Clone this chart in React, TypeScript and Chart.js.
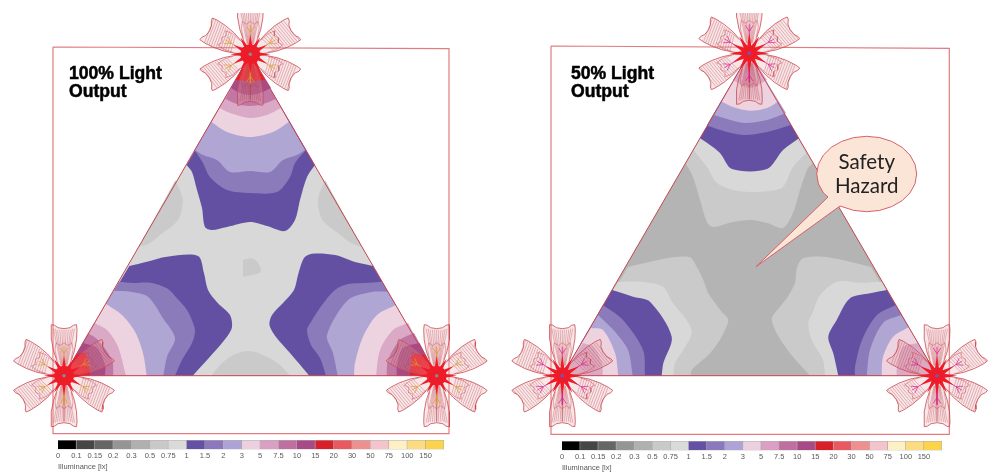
import React, { useEffect, useRef } from "react";
import { Chart, registerables } from "chart.js";

Chart.register(...registerables);

const C = {
  g1: "#b3b4b3", g2: "#c9cac9", g3: "#d7d8d7",
  p1: "#6450a3", p2: "#8b7bba", p3: "#b0a6d4",
  k1: "#edd3e0", k2: "#daa9c6", k3: "#c077a4", k4: "#a64b87", red: "#ee1c28",
};

/* contour bands, x y x y ... in the picture's units */
const L_TRI = [250.3,54.3, 436.7,375.7, 64,375.7];
const L_BLOB_A = [175.5,180, 182.7,200, 178,220, 160,235, 150,243, 138.7,247];
const L_BLOB_B = [325,180, 318,200, 322.5,220, 340.5,235, 351,243, 362,247];
const L_BLOB_C = [243,260, 251.7,258.3, 258.3,263, 260.7,271.7, 251.7,275, 243,276.7];
const L_BLOB_D = [211.7,375.7, 220,365, 233.3,355, 250,351, 266.7,356.7, 280,365, 290,375.7];
const L_TOP: [string, number[]][] = [
  [C.p1, [250.3,54.3, 186.7,165, 192,172, 197,190, 202,208, 205,227, 212,230, 227,227, 250,222, 267,226, 285,231, 295,220, 300,200, 307,177, 315,165]],
  [C.p2, [250.3,54.3, 194.5,150, 203,163, 210,177, 227,190, 250,193, 277,192, 290,177, 295,163, 306,150]],
  [C.p3, [250.3,54.3, 194.5,150, 203,155, 217,160, 230,172, 250,171, 270,172, 283,160, 297,155, 305,150]],
  [C.k1, [250.3,54.3, 211.5,122, 227,132, 250,137, 273,132, 288.8,122]],
  [C.k2, [250.3,54.3, 219.5,108, 230,113, 250,118, 267,115, 281,108]],
  [C.k3, [250.3,54.3, 225.5,99, 237,104, 250,106, 263,104, 276,99]],
  [C.k4, [250.3,54.3, 231,88, 240,93, 250,95, 260,93, 271,88]],
  [C.red, [250.3,54.3, 235.4,80, 250,81, 265.2,80]],
];
const L_BL: [string, number[]][] = [
  [C.p1, [64,375.7, 129.3,266, 147,261.7, 167,256.7, 198,256, 204,273.3, 208,290, 218,303.3, 230,315, 232,327.3, 227,336.7, 213,353.3, 192.7,375.7]],
  [C.p2, [64,375.7, 119,281.7, 133,283, 150,282.7, 167,288.3, 177,298.3, 187,310, 193,323, 195,331.7, 192,343, 182,360, 175,375.7]],
  [C.p3, [64,375.7, 114,290.7, 130,291.7, 148,296.7, 163,318.3, 175,338.3, 167,356.7, 163.3,375.7]],
  [C.k1, [64,375.7, 106,304, 122,315, 135,331.7, 143,353, 146.7,375.7]],
  [C.k2, [64,375.7, 94,322.7, 107,330, 118,346.7, 126,375.7]],
  [C.k3, [64,375.7, 88,333.3, 98,340, 112,360, 113.3,375.7]],
  [C.k4, [64,375.7, 83,343, 97,348, 105,365, 105,375.7]],
  [C.red, [64,375.7, 76,355, 85,353, 90,372, 90,375.7]],
];
const L_BR: [string, number[]][] = [
  [C.p1, [436.7,375.7, 373,266, 355,262, 335,255, 312,253.7, 304,258, 298,275, 294,290, 283,303, 272,315, 269.5,325, 276,337, 290,353, 309.3,375.7]],
  [C.p2, [436.7,375.7, 382,281.7, 365,283, 348,284, 335,290, 322,305, 311,322, 307,330, 311,345, 320,358, 326,375.7]],
  [C.p3, [436.7,375.7, 387.5,291.7, 372,292, 348,300, 327,335, 333,353, 337.7,375.7]],
  [C.k1, [436.7,375.7, 396,305, 377,315, 363,336.7, 355,363, 354,375.7]],
  [C.k2, [436.7,375.7, 408,323, 393,330, 380,350, 376,375.7]],
  [C.k3, [436.7,375.7, 414,333, 400,340, 388,360, 386.7,375.7]],
  [C.k4, [436.7,375.7, 419.5,343, 403,348, 397,365, 396.7,375.7]],
  [C.red, [436.7,375.7, 425,355, 413,355, 410,372, 410,375.7]],
];

const R_TRI = [749.3,53.3, 937,375.7, 562.3,375.7];
const R_TOP: [string, number[]][] = [
  [C.g2, [749.3,53.3, 685.5,163.3, 693,177, 700,200, 707,222, 713,227, 733,222, 750,220, 767,223, 783,228, 793,213, 800,190, 808,168, 813,163.3]],
  [C.g3, [749.3,53.3, 693.3,150, 707,167, 717,183, 733,190, 750,192, 770,191, 783,187, 793,167, 806,153]],
  [C.p1, [749.3,53.3, 700,138.3, 710,145, 720,153, 732,169, 767,169, 783,150, 799,138.3]],
  [C.p2, [749.3,53.3, 706.7,125.5, 727,132, 745,135, 767,132, 791,125]],
  [C.p3, [749.3,53.3, 714,115, 727,119, 745,123, 767,120, 786,113]],
  [C.k1, [749.3,53.3, 721.7,101.7, 733,107, 750,110.7, 767,108, 778,101.7]],
  [C.k2, [749.3,53.3, 733,80, 750,88, 767,80]],
];
const R_BL: [string, number[]][] = [
  [C.g2, [562.3,375.7, 628,267, 650,261.7, 673,257.3, 690,257.3, 696.7,266.7, 703.3,280, 708.3,293.3, 721.7,311.7, 728.3,320, 721.7,336.7, 710,353.3, 691.7,370, 690.7,375.7]],
  [C.g3, [562.3,375.7, 618,281.7, 640,281.7, 663,286.7, 673,303.3, 686.7,320, 691.7,333.3, 683.3,350, 675,363.3, 673.3,375.7]],
  [C.p1, [562.3,375.7, 612,290, 633,296.7, 650,301.7, 671.7,336.7, 663.3,363.3, 661.7,375.7]],
  [C.p2, [562.3,375.7, 603,305, 623,320, 643,350, 645,375.7]],
  [C.p3, [562.3,375.7, 598,315, 615,331.7, 628,350, 632.7,375.7]],
  [C.k1, [562.3,375.7, 591,328, 603,330, 615,353, 618.3,375.7]],
  [C.k2, [562.3,375.7, 583,343, 593,347, 602,363, 602.7,375.7]],
];
const R_BR: [string, number[]][] = [
  [C.g2, [937,375.7, 871,267, 850,261.7, 823,256.7, 803,258.3, 796.7,268.3, 795,283, 786.7,298.3, 773.3,315, 771.7,320, 776.7,333.3, 790,353.3, 810,375.7]],
  [C.g3, [937,375.7, 881.7,281.7, 860,282.7, 837,281.7, 820,295, 813,311.7, 808.3,323.3, 811.7,340, 823,360, 825,375.7]],
  [C.p1, [937,375.7, 887,290, 870,293.3, 850,298.3, 836.7,320, 828.3,336.7, 833.3,353.3, 838.3,375.7]],
  [C.p2, [937,375.7, 896,305, 877,315, 862,340, 855,367, 855,375.7]],
  [C.p3, [937,375.7, 901,315, 883,323, 870,350, 866.7,375.7]],
  [C.k1, [937,375.7, 909,327, 893,337, 883,357, 881.7,375.7]],
  [C.k2, [937,375.7, 918,343, 903,347, 897,367, 896.7,375.7]],
];

const L_FRAME = [53,47, 449,48.7, 449,433.7, 53,433.7, 53,47];
const R_FRAME = [551,46, 949.3,48.3, 949.3,434.3, 551,434.3, 551,46];
const CALLOUT = [756,266.7, 840,206, 853.7,210.4, 866.7,211.7, 879.7,210.4, 891.7,206.6, 902.1,200.7, 910,192.9, 915,183.8, 916.7,174, 915,164.2, 910,155.1, 902.1,147.3, 891.7,141.4, 879.7,137.6, 866.7,136.3, 853.7,137.6, 841.7,141.4, 831.3,147.3, 823.4,155.1, 818.4,164.2, 816.7,174, 818.4,183.8, 823.4,192.9, 828,197];

/* luminaire symbol: local v,u pairs */
const PETAL_ANGLES = [90, 30, -30, -90, -150, 150];
const PETAL_OUTLINE = [0,0, -4.5,8, -7.5,16, -10.5,25, -12.5,36, -13,46, -12.5,51, -9.5,50.5, -6,48, 0,47, 6,48, 9.5,50.5, 12.5,51, 13,46, 12.5,36, 10.5,25, 7.5,16, 4.5,8, 0,0];
const PETAL_INNER = [-7,16, -9,26, -8,33, -4,30, 0,33, 4,30, 8,33, 9,26, 7,16];
const AXIS_LINES = [[-3,10,-10.5,47],[-2.4,10,-8.5,47],[-1.8,10,-6.5,46],[-1.2,10,-4.3,46],[-0.6,10,-2.1,46],[0,10,0,46],[0.6,10,2.1,46],[1.2,10,4.3,46],[1.8,10,6.5,46],[2.4,10,8.5,47],[3,10,10.5,47]];
const CROSS_LINES = [[-8,18,7.5,22],[-9,20.5,8,24.5],[-10,23,9,27],[-10.5,25.5,10,29.5],[-11,28,10.5,32],[-11.5,30.5,11,34.5],[-12,33,11.5,37],[-12,35.5,12,39.5],[-12.5,38,12,42],[-12.5,40.5,12.5,44.5],[-12.5,43,12.5,47],[-12.5,45.5,12.5,49.5]];
const SPOKE_LINES = [[0,10,0,29],[0,22,-4,28],[0,22,4,28]];
const STAR = [20,0, 7.5,2, 17,9.5, 5.5,5.5, 10,17, 2,7.5, 0,20, -2,7.5, -10,17, -5.5,5.5, -17,9.5, -7.5,2, -20,0, -7.5,-2, -17,-9.5, -5.5,-5.5, -10,-17, -2,-7.5, 0,-20, 2,-7.5, 10,-17, 5.5,-5.5, 17,-9.5, 7.5,-2];
const L_CENTRES = [[250.3,54.3],[64,375.7],[436.7,375.7]];
const R_CENTRES = [[749.3,53.3],[562.3,375.7],[937,375.7]];

const TEXTS: [string, number, number, string, string, string][] = [
  ["100% Light", 69, 74, "left", "bold 17.6px 'Liberation Sans'", "#000"],
  ["Output", 69, 92.5, "left", "bold 17.6px 'Liberation Sans'", "#000"],
  ["50% Light", 571, 74, "left", "bold 17.6px 'Liberation Sans'", "#000"],
  ["Output", 571, 92.5, "left", "bold 17.6px 'Liberation Sans'", "#000"],
  ["Safety", 866.7, 162, "center", "20.5px Lato", "#222"],
  ["Hazard", 866.7, 186.5, "center", "20.5px Lato", "#222"],
];

/* colour scale */
const SCALE_TICKS = ["0","0.1","0.15","0.2","0.3","0.5","0.75","1","1.5","2","3","5","7.5","10","15","20","30","50","75","100","150"];
const SCALE_COLOURS = ["#000000","#464646","#666666","#959595","#b0b0b0","#c9c9c9","#dadada","#6450a5","#8b78bd","#ada3d6","#ecd0df","#d9a0c3","#c070a0","#a84a85","#d8202a","#e85a60","#ef9090","#f3c5cb","#fdf0c5","#fbdc80","#fcd34d"];

const toPts = (f: number[]) => {
  const out: { x: number; y: number }[] = [];
  for (let i = 0; i + 1 < f.length; i += 2) out.push({ x: f[i], y: f[i + 1] });
  return out;
};
const place = (cx: number, cy: number, deg: number, v: number, u: number) => {
  const a = (deg * Math.PI) / 180;
  return { x: cx + u * Math.cos(a) + v * Math.sin(a), y: cy - u * Math.sin(a) + v * Math.cos(a) };
};
const placeFlat = (cx: number, cy: number, deg: number, f: number[]) => toPts(f).map((p) => place(cx, cy, deg, p.x, p.y));
const GAP = { x: NaN, y: NaN };

const base = { showLine: true, pointRadius: 0, parsing: true, tension: 0 };
const poly = (f: number[] | { x: number; y: number }[], bg: string | null, stroke?: string, w = 0) => ({
  ...base,
  data: typeof f[0] === "number" ? toPts(f as number[]) : f,
  fill: bg ? "shape" : false,
  backgroundColor: bg || "transparent",
  borderColor: stroke || "transparent",
  borderWidth: w,
});

function flower(cx: number, cy: number, spokeColour: string, dotColour: string, coreRadius: number) {
  const out: any[] = [];
  const hatch: any[] = [];
  const inner: any[] = [];
  const spokes: any[] = [];
  for (const deg of PETAL_ANGLES) {
    out.push(poly(placeFlat(cx, cy, deg, PETAL_OUTLINE), "rgba(226,170,175,0.28)", "#cc4a52", 0.8));
    const lines = Math.abs(deg) === 90 ? AXIS_LINES : CROSS_LINES;
    for (const l of lines) hatch.push(place(cx, cy, deg, l[0], l[1]), place(cx, cy, deg, l[2], l[3]), GAP);
    inner.push(...placeFlat(cx, cy, deg, PETAL_INNER), GAP);
    for (const l of SPOKE_LINES) spokes.push(place(cx, cy, deg, l[0], l[1]), place(cx, cy, deg, l[2], l[3]), GAP);
  }
  out.push(poly(hatch, null, "rgba(190,60,70,0.7)", 0.5));
  out.push(poly(inner, null, "rgba(200,60,70,0.7)", 0.6));
  out.push(poly(spokes, null, spokeColour, 0.7));
  out.push(poly(toPts(STAR).map((p) => ({ x: cx + p.x, y: cy + p.y })), C.red));
  out.push({ ...base, showLine: false, data: [{ x: cx, y: cy }], pointRadius: coreRadius, pointBackgroundColor: C.red, pointBorderWidth: 0 });
  out.push({ ...base, showLine: false, data: [{ x: cx, y: cy }], pointRadius: 1.8, pointBackgroundColor: dotColour, pointBorderWidth: 0 });
  return out;
}

/* bands are smoothed; the edge point is doubled so the side on the triangle stays straight */
const band = (rows: [string, number[]][]) =>
  rows.map(([c, f]) => {
    const pts = toPts(f);
    pts.splice(2, 0, { ...pts[1] });
    return { ...poly(pts, c), tension: 0.3 };
  });
const OUTLINE = "#c4454e";

function buildDatasets() {
  const blob = (f: number[]) => ({ ...poly(f, C.g2), tension: 0.3 });
  const ds: any[] = [
    poly(L_FRAME, null, "#e27c80", 1.2),
    poly(R_FRAME, null, "#e27c80", 1.2),
    poly(L_TRI, C.g3),
    blob(L_BLOB_A), blob(L_BLOB_B), blob(L_BLOB_C), blob(L_BLOB_D),
    ...band(L_TOP), ...band(L_BL), ...band(L_BR),
    poly([...L_TRI, L_TRI[0], L_TRI[1]], null, OUTLINE, 1),
    poly(R_TRI, C.g1),
    ...band(R_TOP), ...band(R_BL), ...band(R_BR),
    poly([...R_TRI, R_TRI[0], R_TRI[1]], null, OUTLINE, 1),
  ];
  for (const [x, y] of L_CENTRES) ds.push(...flower(x, y, "#dc9a2e", "#8a8a8a", 10));
  for (const [x, y] of R_CENTRES) ds.push(...flower(x, y, "#d8208c", "#7a50c0", 5));
  ds.push(poly([...CALLOUT, CALLOUT[0], CALLOUT[1]], "#fbe5d6", "#d6606a", 1));
  return ds.reverse();
}

const textPlugin = {
  id: "panelText",
  afterDatasetsDraw(chart: any) {
    const { ctx, scales } = chart;
    ctx.save();
    ctx.textBaseline = "middle";
    for (const [t, x, y, align, font, colour] of TEXTS) {
      ctx.font = font;
      ctx.textAlign = align;
      ctx.fillStyle = colour;
      const px = scales.x.getPixelForValue(x);
      const py = scales.y.getPixelForValue(y);
      ctx.fillText(t, px, py);
      if (font.startsWith("bold")) {
        ctx.strokeStyle = colour;
        ctx.lineWidth = 0.5;
        ctx.strokeText(t, px, py);
      }
    }
    ctx.restore();
  },
};

function MainChart() {
  const ref = useRef<HTMLCanvasElement>(null);
  useEffect(() => {
    const chart = new Chart(ref.current!, {
      type: "scatter",
      data: { datasets: buildDatasets() },
      plugins: [textPlugin],
      options: {
        animation: false,
        responsive: false,
        devicePixelRatio: 1,
        events: [],
        layout: { padding: 0, autoPadding: false },
        plugins: { legend: { display: false }, tooltip: { enabled: false } },
        scales: {
          x: { type: "linear", min: 0, max: 1001, display: false },
          y: { type: "linear", min: 13, max: 474, reverse: true, display: false },
        },
      },
    } as any);
    return () => chart.destroy();
  }, []);
  return <canvas ref={ref} width={1001} height={461} style={{ position: "absolute", left: 0, top: 13, filter: "blur(0.45px)" }} />;
}

function ScaleBar({ left, top, width }: { left: number; top: number; width: number }) {
  const ref = useRef<HTMLCanvasElement>(null);
  useEffect(() => {
    const chart = new Chart(ref.current!, {
      type: "bar",
      data: {
        labels: ["Illuminance"],
        datasets: SCALE_COLOURS.map((c) => ({
          data: [1],
          backgroundColor: c,
          borderColor: "rgba(80,80,80,0.45)",
          borderWidth: 0.8,
          barPercentage: 1,
          categoryPercentage: 1,
        })),
      },
      options: {
        indexAxis: "y",
        animation: false,
        responsive: false,
        devicePixelRatio: 1,
        events: [],
        layout: { padding: { left: 16, right: 16, top: 0, bottom: 0 }, autoPadding: false },
        plugins: { legend: { display: false }, tooltip: { enabled: false } },
        scales: {
          y: { stacked: true, display: false },
          x: {
            type: "linear",
            stacked: true,
            min: 0,
            max: 21,
            afterFit: (scale: any) => { scale.height = 24.5; },
            grid: { display: false, drawTicks: false },
            border: { display: false },
            ticks: {
              stepSize: 1,
              autoSkip: false,
              maxRotation: 0,
              padding: 2,
              color: "#5a5a5a",
              font: { family: "'Liberation Sans'", size: 7.5 },
              callback: (v: number) => SCALE_TICKS[v] ?? "",
            },
            title: {
              display: true,
              text: "Illuminance [lx]",
              align: "start",
              color: "#5a5a5a",
              font: { family: "'Liberation Sans'", size: 7.5 },
              padding: { top: 3, bottom: 3 },
            },
          },
        },
      },
    } as any);
    return () => chart.destroy();
  }, []);
  return <canvas ref={ref} width={width + 32} height={34} style={{ position: "absolute", left: left - 16, top, filter: "blur(0.35px)" }} />;
}

export default function App() {
  return (
    <div style={{ position: "absolute", left: 0, top: 0, width: 1001, height: 474, overflow: "hidden", background: "#fff" }}>
      <MainChart />
      <ScaleBar left={58} top={440} width={386} />
      <ScaleBar left={562} top={441} width={380} />
    </div>
  );
}
